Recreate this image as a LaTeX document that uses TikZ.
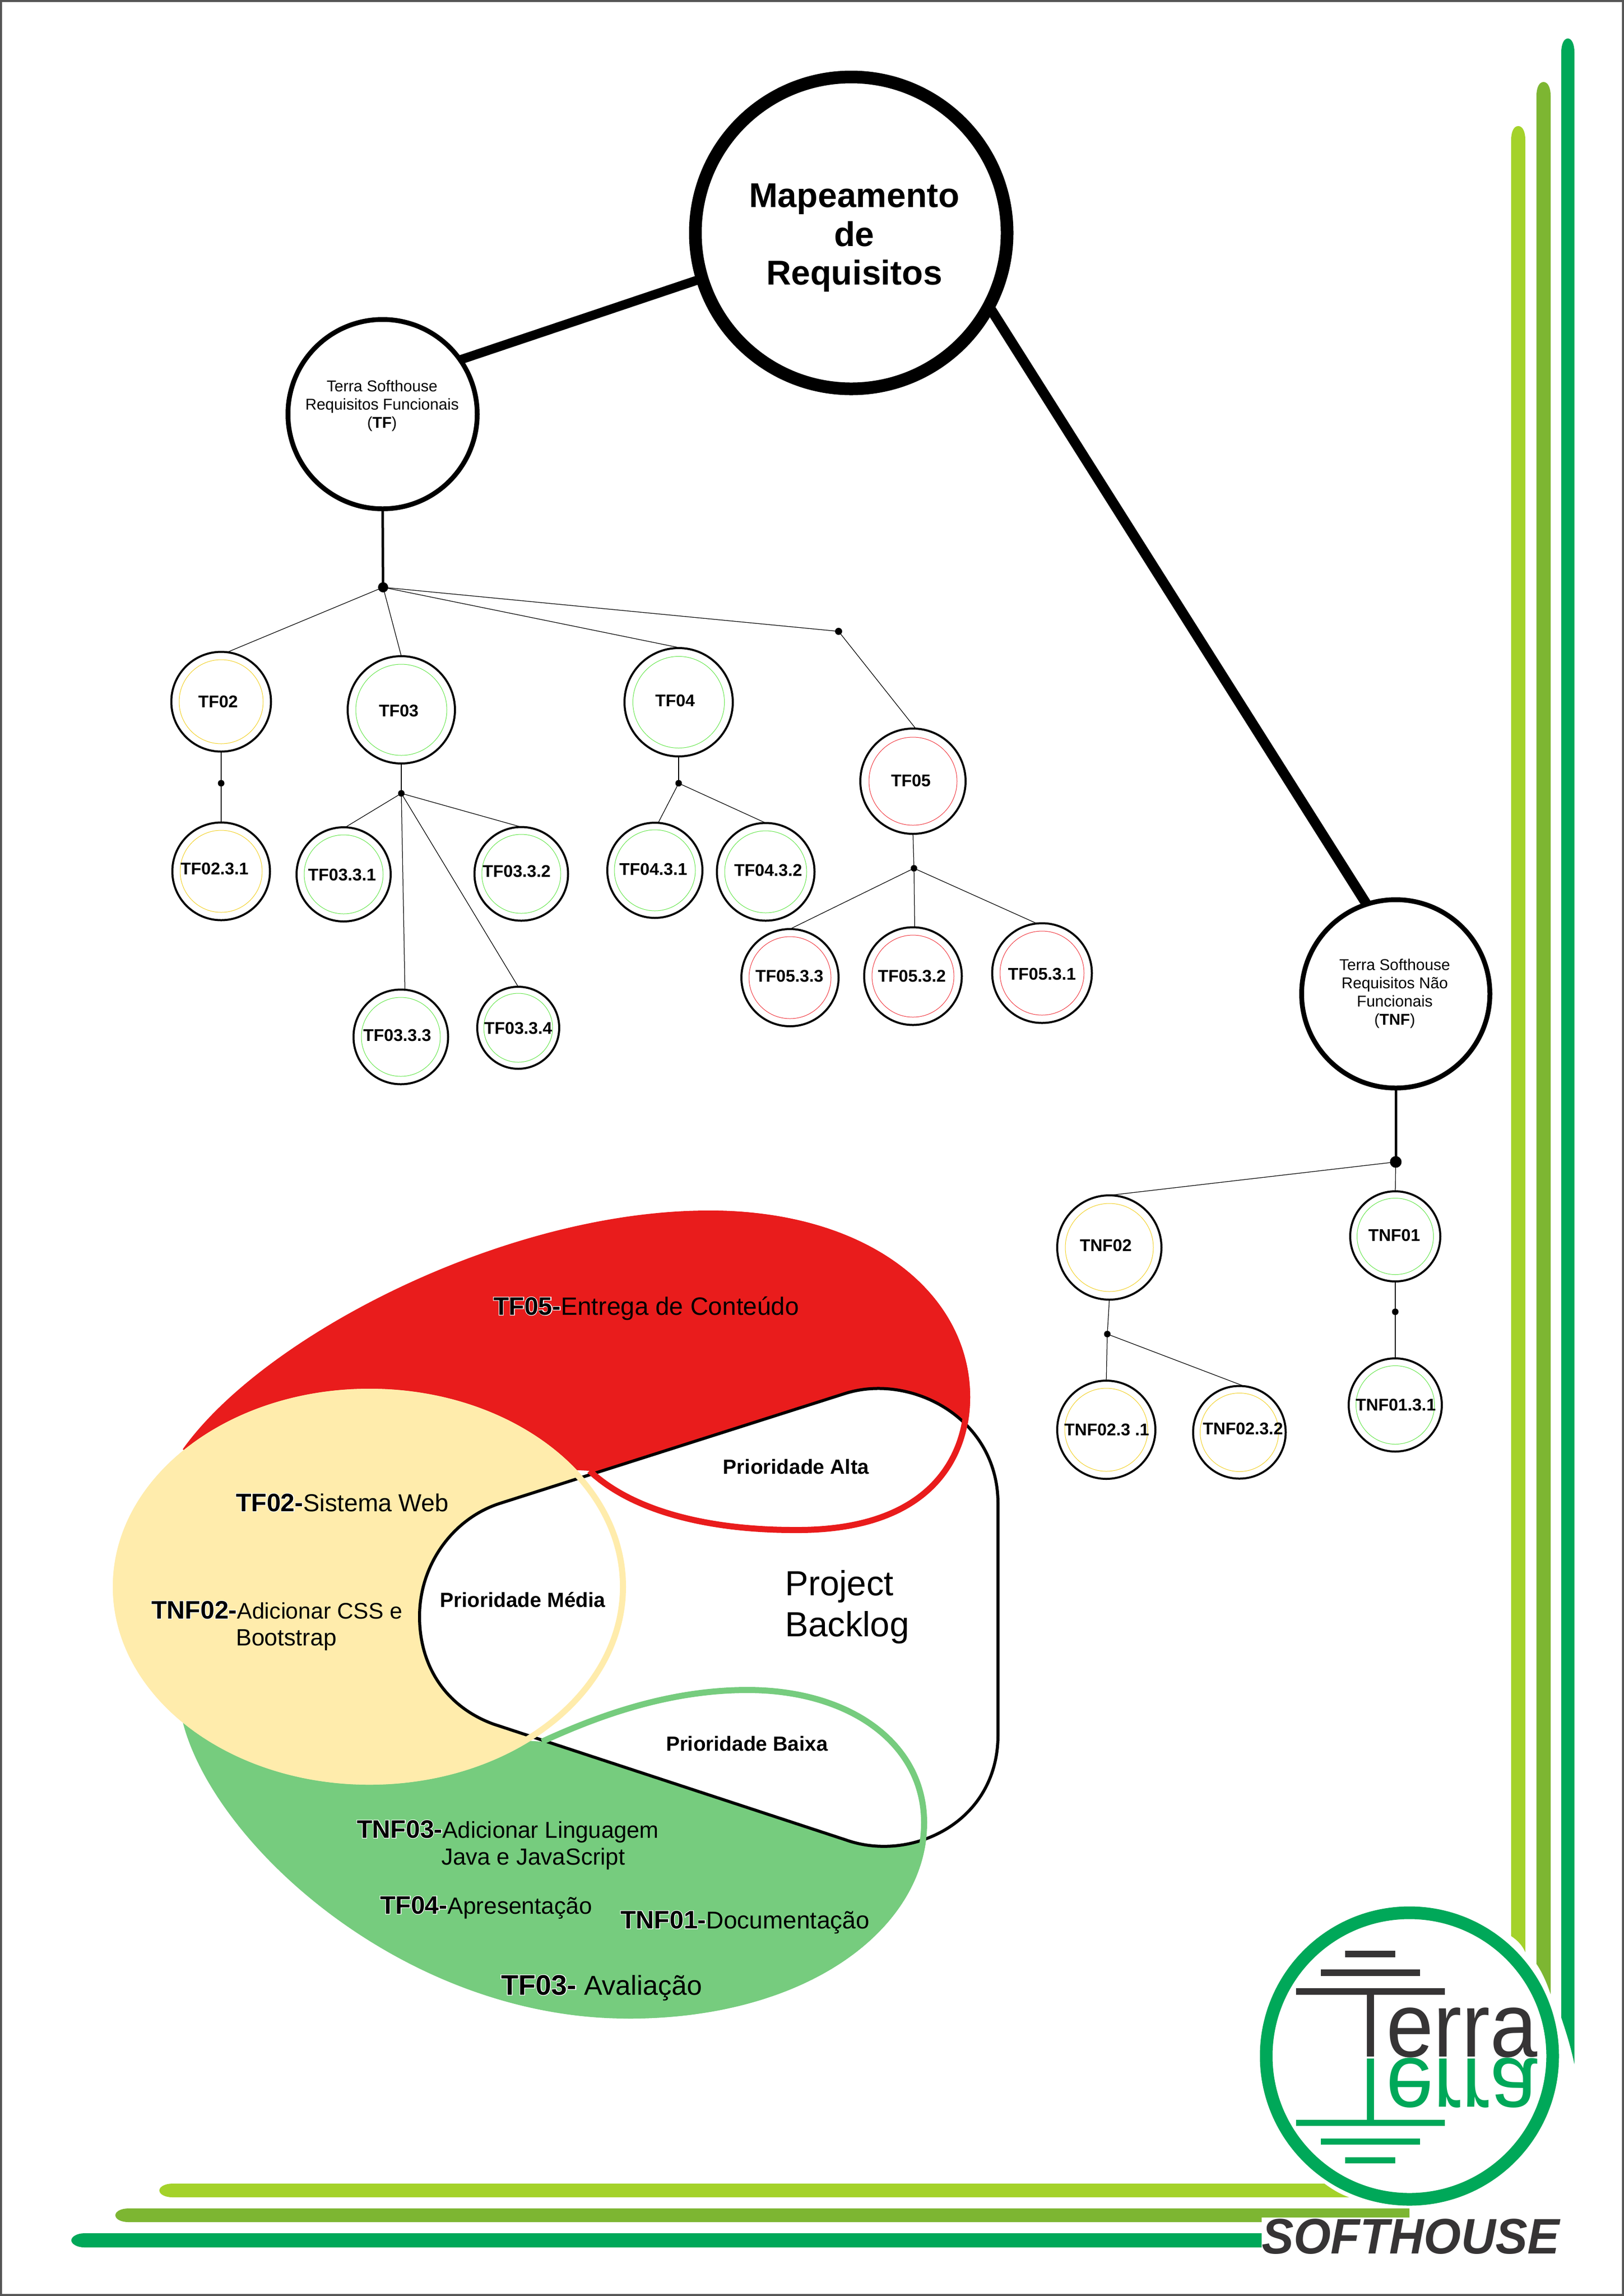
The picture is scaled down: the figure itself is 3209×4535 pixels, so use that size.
\documentclass[tikz,border=0pt]{standalone}
\usepackage{fontspec}
\usepackage{xcolor}
\usepackage{tikz}
\setmainfont{Liberation Sans}
\newfontfamily\glowfont[FakeBold=5]{Liberation Sans Bold}
\definecolor{logolight}{HTML}{A4D22A}
\definecolor{logomid}{HTML}{7DB632}
\definecolor{logodark}{HTML}{00A859}
\definecolor{logogrey}{HTML}{363435}
\definecolor{framegrey}{HTML}{555555}
\definecolor{blobred}{HTML}{E91C1C}
\definecolor{blobgreen}{HTML}{76CC7E}
\definecolor{blobyellow}{HTML}{FFECAC}
\definecolor{ringgold}{HTML}{F2D024}
\definecolor{ringgreen}{HTML}{62E648}
\definecolor{ringred}{HTML}{F0343C}
\newcommand{\reqtag}[2][10]{\fontsize{#1}{11}\selectfont\rlap{\textcolor{white}{\glowfont #2}}\textbf{#2}}

\begin{document}
\begin{tikzpicture}[
  x=0.2pt,
  y=-0.2pt,
  req/.style={circle, draw, line width=0.8pt, inner sep=0pt, outer sep=0pt, minimum size=#1*0.4pt},
  root/.style={circle, draw, line width=1.9pt, inner sep=0pt, outer sep=0pt, minimum size=#1*0.4pt},
  ringg/.style={circle, draw=ringgreen, line width=0.2pt, inner sep=0pt, minimum size=#1*0.4pt},
  ringy/.style={circle, draw=ringgold, line width=0.2pt, inner sep=0pt, minimum size=#1*0.4pt},
  ringr/.style={circle, draw=ringred, line width=0.2pt, inner sep=0pt, minimum size=#1*0.4pt},
  reqtext/.style={inner sep=0pt, font=\bfseries\fontsize{6.7}{8}\selectfont},
  roottext/.style={inner sep=0pt, align=center, font=\fontsize{6.2}{7.2}\selectfont},
  dot/.style={circle, fill=black, inner sep=0pt, minimum size=#1*0.4pt},
  thin link/.style={line width=0.25pt},
  trunk/.style={line width=1pt},
  blobtext/.style={inner sep=0pt, anchor=base west},
  prio/.style={inner sep=0pt, font=\bfseries\fontsize{8.1}{9}\selectfont}
]
\useasboundingbox (0,0) rectangle (3209,4535);
\fill[white] (0,0) rectangle (3209,4535);
\draw[framegrey, line width=0.7pt] (2,2) rectangle (3207,4533);

% Corner bars
\fill[logodark] (3085,3985) -- (3085,103) .. controls (3085,88) and (3090,76) .. (3098,76) .. controls (3106,76) and (3111,88) .. (3111,103) -- (3111,4077) .. controls (3103,4040) and (3095,4015) .. cycle;
\fill[logomid] (3036,3879) -- (3036,189) .. controls (3036,174) and (3041,162) .. (3050,162) .. controls (3059,162) and (3064,174) .. (3064,189) -- (3064,3939) .. controls (3056,3915) and (3047,3895) .. cycle;
\fill[logolight] (2986,3824) -- (2986,276) .. controls (2986,261) and (2991,249) .. (3000,249) .. controls (3009,249) and (3014,261) .. (3014,276) -- (3014,3856) .. controls (3008,3842) and (2998,3832) .. cycle;
\fill[logolight] (2617,4313) -- (341,4313) .. controls (326,4313) and (315,4319) .. (315,4326.5) .. controls (315,4334) and (326,4340) .. (341,4340) -- (2666,4340) .. controls (2648,4334) and (2632,4324) .. cycle;
\fill[logomid] (2785,4362) -- (254,4362) .. controls (239,4362) and (228,4368) .. (228,4375.5) .. controls (228,4383) and (239,4389) .. (254,4389) -- (2785,4389) -- cycle;
\fill[logodark] (2500,4411) -- (167,4411) .. controls (152,4411) and (141,4418) .. (141,4425) .. controls (141,4432) and (152,4439) .. (167,4439) -- (2500,4439) -- cycle;

% Logo
\node[circle, draw=logodark, line width=5pt, inner sep=0pt, minimum size=113.2pt] (logo) at (2785,4061) {};
\fill[logogrey] (2658,3853) rectangle (2757,3866);
\fill[logogrey] (2610,3890) rectangle (2806,3903);
\fill[logogrey] (2561,3927) rectangle (2855,3940);
\fill[logogrey] (2701,3940) rectangle (2715,4062);
\fill[logodark] (2701,4066) rectangle (2715,4187);
\fill[logodark] (2561,4187) rectangle (2855,4199);
\fill[logodark] (2610,4224) rectangle (2806,4236);
\fill[logodark] (2658,4261) rectangle (2757,4273);
\node[inner sep=0pt, anchor=base west, text=logogrey, font=\fontsize{36}{36}\selectfont] (terra) at (2738,4062) {\scalebox{.934}[1]{erra}};
\node[inner sep=0pt, anchor=base west, text=logodark, font=\fontsize{36}{36}\selectfont] (terramirror) at (2738,4066) {\scalebox{.934}[-1]{erra}};
\node[fill=white, inner xsep=0pt, inner ysep=0.4pt, anchor=base west, text=logogrey, font=\bfseries\itshape\fontsize{19.7}{20}\selectfont] (softhouse) at (2492,4451) {\scalebox{.96}[1]{SOFTHOUSE}};

% Priority blobs
\draw[blobred, fill=blobred, line width=2.4pt] (366,2866) .. controls (524,2644) and (1000,2397) .. (1400,2397) .. controls (1716,2397) and (1911,2560) .. (1911,2760) .. controls (1911,2870) and (1846,3024) .. (1570,3022) .. controls (1400,3022) and (1250,2985) .. (1165,2905);
\draw[blobgreen, fill=blobgreen, line width=2.4pt] (366,3396) .. controls (424,3636) and (800,3981) .. (1241,3981) .. controls (1600,3981) and (1826,3800) .. (1826,3600) .. controls (1826,3444) and (1680,3338) .. (1477,3338) .. controls (1320,3338) and (1180,3390) .. (1071,3440);
\fill[blobyellow] (730,3134) ellipse [x radius=507, y radius=391];
\draw[fill=white, line width=1.2pt] (986,2970) -- (1671,2752) .. controls (1800,2712) and (1972,2800) .. (1972,2970) -- (1972,3427) .. controls (1972,3600) and (1800,3680) .. (1671,3634) -- (974,3405) .. controls (880,3370) and (829,3290) .. (829,3193) .. controls (829,3090) and (895,3000) .. (986,2970) -- cycle;
\draw[blobred, line width=2.4pt] (1400,2397) .. controls (1716,2397) and (1911,2560) .. (1911,2760) .. controls (1911,2870) and (1846,3024) .. (1570,3022) .. controls (1400,3022) and (1250,2985) .. (1165,2905);
\draw[blobgreen, line width=2.4pt] (1241,3981) .. controls (1600,3981) and (1826,3800) .. (1826,3600) .. controls (1826,3444) and (1680,3338) .. (1477,3338) .. controls (1320,3338) and (1180,3390) .. (1071,3440);
\draw[blobyellow, line width=2.4pt] (730,3134) ellipse [x radius=501, y radius=385];

% Blob texts
\node[blobtext, font=\fontsize{9.9}{11}\selectfont] (t05) at (974,2597) {{\reqtag{TF05-}}Entrega de Conteúdo};
\node[blobtext, font=\fontsize{9.7}{11}\selectfont] (t02) at (465,2985) {{\reqtag{TF02-}}Sistema Web};
\node[blobtext, font=\fontsize{8.9}{11}\selectfont] (n02) at (298,3197) {{\reqtag{TNF02-}}Adicionar CSS e};
\node[blobtext, font=\fontsize{9.3}{11}\selectfont] (n02b) at (465,3250) {Bootstrap};
\node[blobtext, font=\fontsize{9.1}{11}\selectfont] (n03) at (704,3630) {{\reqtag{TNF03-}}Adicionar Linguagem};
\node[blobtext, font=\fontsize{9.2}{11}\selectfont] (n03b) at (871,3683) {Java e JavaScript};
\node[blobtext, font=\fontsize{9.25}{11}\selectfont] (t04) at (750,3780) {{\reqtag{TF04-}}Apresentação};
\node[blobtext, font=\fontsize{9.6}{11}\selectfont] (n01) at (1225,3809) {{\reqtag{TNF01-}}Documentação};
\node[blobtext, font=\fontsize{10.8}{12}\selectfont] (t03) at (989,3940) {{\reqtag[11.2]{TF03-}} Avaliação};
\node[prio] (alta) at (1573,2897) {Prioridade Alta};
\node[prio] (media) at (1033,3160) {Prioridade Média};
\node[prio] (baixa) at (1476,3444) {Prioridade Baixa};
\node[inner sep=0pt, align=left, font=\fontsize{13.8}{16.2}\selectfont] (backlog) at (1674,3174) {Project\\Backlog};

% Main nodes
\node[circle, draw, line width=5pt, inner sep=0pt, outer sep=0pt, minimum size=123.2pt] (main) at (1682,460) {};
\node[inner sep=0pt, align=center, font=\bfseries\fontsize{13.6}{15.3}\selectfont] (maintext) at (1688,470) {Mapeamento\\de\\Requisitos};
\node[root=187] (tfroot) at (756,818) {};
\node[roottext] (tfroottext) at (755,801) {Terra Softhouse\\Requisitos Funcionais\\(\textbf{TF})};
\node[root=186] (tnfroot) at (2758,1963) {};
\node[roottext] (tnfroottext) at (2756,1962) {Terra Softhouse\\Requisitos Não\\Funcionais\\(\textbf{TNF})};

% Branch dots
\node[dot=10] (dottf) at (757,1160) {};
\node[dot=7] (dottf05) at (1657,1247) {};
\node[dot=6.5] (dot02) at (437,1547) {};
\node[dot=6.5] (dot03) at (793,1567) {};
\node[dot=6.5] (dot04) at (1341,1547) {};
\node[dot=6.5] (dot05) at (1806,1715) {};
\node[dot=11.5] (dottnf) at (2758,2295) {};
\node[dot=6.5] (dotn02) at (2188,2635) {};
\node[dot=6.5] (dotn01) at (2757,2591) {};

% TF requirements
\node[req=98.5] (tf02) at (437,1386) {};
\node[ringy=83] (tf02ring) at (437,1386) {};
\node[reqtext] (tf02text) at (431,1386) {TF02};
\node[req=96.5] (tf0231) at (437,1721) {};
\node[ringy=81] (tf0231ring) at (437,1721) {};
\node[reqtext] (tf0231text) at (424,1716) {TF02.3.1};
\node[req=106] (tf03) at (793,1402) {};
\node[ringg=90] (tf03ring) at (793,1402) {};
\node[reqtext] (tf03text) at (788,1404) {TF03};
\node[req=93] (tf0331) at (679,1727) {};
\node[ringg=78] (tf0331ring) at (679,1727) {};
\node[reqtext] (tf0331text) at (676,1728) {TF03.3.1};
\node[req=92.5] (tf0332) at (1030,1726) {};
\node[ringg=78] (tf0332ring) at (1030,1726) {};
\node[reqtext] (tf0332text) at (1021,1721) {TF03.3.2};
\node[req=93.5] (tf0333) at (792,2048) {};
\node[ringg=78] (tf0333ring) at (792,2048) {};
\node[reqtext] (tf0333text) at (785,2045) {TF03.3.3};
\node[req=81] (tf0334) at (1024,2030) {};
\node[ringg=68] (tf0334ring) at (1024,2030) {};
\node[reqtext] (tf0334text) at (1024,2031) {TF03.3.4};
\node[req=107] (tf04) at (1341,1387) {};
\node[ringg=90.5] (tf04ring) at (1341,1387) {};
\node[reqtext] (tf04text) at (1334,1384) {TF04};
\node[req=94] (tf0431) at (1294,1719) {};
\node[ringg=80] (tf0431ring) at (1294,1719) {};
\node[reqtext] (tf0431text) at (1291,1717) {TF04.3.1};
\node[req=96.5] (tf0432) at (1513,1722) {};
\node[ringg=81] (tf0432ring) at (1513,1722) {};
\node[reqtext] (tf0432text) at (1518,1719) {TF04.3.2};
\node[req=104] (tf05) at (1804,1543) {};
\node[ringr=87] (tf05ring) at (1804,1543) {};
\node[reqtext] (tf05text) at (1800,1542) {TF05};
\node[req=96] (tf0533) at (1561,1931) {};
\node[ringr=81] (tf0533ring) at (1561,1931) {};
\node[reqtext] (tf0533text) at (1560,1928) {TF05.3.3};
\node[req=96.5] (tf0532) at (1804,1928) {};
\node[ringr=81] (tf0532ring) at (1804,1928) {};
\node[reqtext] (tf0532text) at (1802,1928) {TF05.3.2};
\node[req=98.5] (tf0531) at (2059,1922) {};
\node[ringr=83] (tf0531ring) at (2059,1922) {};
\node[reqtext] (tf0531text) at (2059,1924) {TF05.3.1};

% TNF requirements
\node[req=103] (tnf02) at (2192,2464) {};
\node[ringy=87] (tnf02ring) at (2192,2464) {};
\node[reqtext] (tnf02text) at (2185,2460) {TNF02};
\node[req=97] (tnf0231) at (2186,2824) {};
\node[ringy=82] (tnf0231ring) at (2186,2824) {};
\node[reqtext] (tnf0231text) at (2187,2824) {TNF02.3 .1};
\node[req=91.5] (tnf0232) at (2449,2829) {};
\node[ringy=77.5] (tnf0232ring) at (2449,2829) {};
\node[reqtext] (tnf0232text) at (2456,2822) {TNF02.3.2};
\node[req=89] (tnf01) at (2757,2442) {};
\node[ringg=75.5] (tnf01ring) at (2757,2442) {};
\node[reqtext] (tnf01text) at (2755,2440) {TNF01};
\node[req=92] (tnf0131) at (2757,2775) {};
\node[ringg=77.5] (tnf0131ring) at (2757,2775) {};
\node[reqtext] (tnf0131text) at (2758,2775) {TNF01.3.1};

% Connectors
\draw[line width=3.6pt] (main.197) -- (tfroot.35);
\draw[line width=4pt] (main.332) -- (tnfroot.108);
\draw[trunk] (tfroot.south) -- (dottf.center);
\draw[trunk] (tnfroot.south) -- (dottnf.center);
\draw[thin link] (dottf.center) -- (tf02.83);
\draw[thin link] (dottf.center) -- (tf03.north);
\draw[thin link] (dottf.center) -- (tf04.87);
\draw[thin link] (dottf.center) -- (dottf05.center);
\draw[thin link] (dottf05.center) -- (tf05.87);
\draw[thin link] (tf02.south) -- (dot02.center) -- (tf0231.north);
\draw[thin link] (tf03.south) -- (dot03.center);
\draw[thin link] (dot03.center) -- (tf0331.88);
\draw[thin link] (dot03.center) -- (tf0332.north);
\draw[thin link] (dot03.center) -- (tf0333.85);
\draw[thin link] (dot03.center) -- (tf0334.north);
\draw[thin link] (tf04.south) -- (dot04.center);
\draw[thin link] (dot04.center) -- (tf0431.86);
\draw[thin link] (dot04.center) -- (tf0432.north);
\draw[thin link] (tf05.south) -- (dot05.center);
\draw[thin link] (dot05.center) -- (tf0533.north);
\draw[thin link] (dot05.center) -- (tf0532.88);
\draw[thin link] (dot05.center) -- (tf0531.96);
\draw[thin link] (dottnf.center) -- (tnf02.north);
\draw[thin link] (dottnf.center) -- (tnf01.north);
\draw[thin link] (tnf02.south) -- (dotn02.center) -- (tnf0231.north);
\draw[thin link] (dotn02.center) -- (tnf0232.84);
\draw[thin link] (tnf01.south) -- (dotn01.center) -- (tnf0131.north);

\end{tikzpicture}
\end{document}
